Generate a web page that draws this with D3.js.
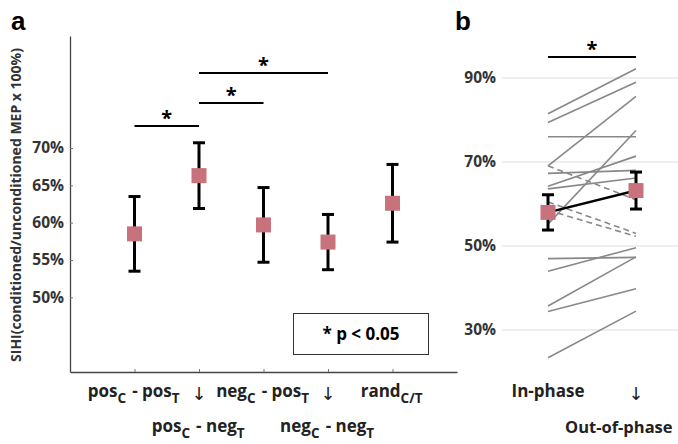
<!DOCTYPE html>
<html>
<head>
<script src="https://cdnjs.cloudflare.com/ajax/libs/d3/7.8.5/d3.min.js"></script>
<style>
  body { margin: 0; background: #fff; }
  text { font-family: "Open Sans", sans-serif; font-weight: bold; fill: #222; }
</style>
</head>
<body>
<script>
// panel a: SIHI per condition (mean, +/- error)
let conditions = ["pos_C - pos_T", "pos_C - neg_T", "neg_C - pos_T", "neg_C - neg_T", "rand_C/T"];
let condMeans = [58.5, 66.3, 59.7, 57.4, 62.6];
let condErr = [5.0, 4.4, 5.0, 3.7, 5.2];
let aTicks = [50, 55, 60, 65, 70];
// significance pairs (index from, index to, stacking level)
let sigPairs = [[0, 1, 0], [1, 2, 1], [1, 3, 2]];

// panel b: individual subjects, in-phase vs out-of-phase
let phases = ["In-phase", "Out-of-phase"];
let subjIn  = [81.5, 79.4, 76.0, 69.1, 67.3, 64.2, 63.6, 55.2, 47.0, 44.0, 35.7, 34.4, 23.4, 69.1, 60.5, 58.5];
let subjOut = [92.2, 89.0, 76.0, 85.6, 68.0, 71.4, 66.2, 77.5, 47.3, 49.6, 47.4, 39.8, 34.5, 61.0, 53.0, 52.3];
let subjDashed = [0, 0, 0, 0, 0, 0, 0, 0, 0, 0, 0, 0, 0, 1, 1, 1];
let phaseMeans = [58.0, 63.2];
let phaseErr = [4.2, 4.4];
let bTicks = [30, 50, 70, 90];

let W = 678, H = 444;
let markColor = "#c8727c";

let svg = d3.select("body").append("svg")
    .attr("width", W)
    .attr("height", H);

// ---------- panel a ----------
let xa = d3.scaleLinear().domain([0, 6]).range([70, 457]);
let ya = d3.scaleLinear().domain([40, 85]).range([372, 36]);

let gya = svg.append("g")
    .attr("transform", "translate(70,0)")
    .call(d3.axisLeft(ya).tickValues(aTicks).tickSize(-3).tickSizeOuter(0)
        .tickFormat(d => d + "%"));
gya.select(".domain").attr("stroke", "#444").attr("stroke-width", 1.3);
gya.selectAll(".tick line").attr("stroke", "#777");
gya.selectAll(".tick text").attr("x", -6).style("font-size", "15.5px").style("fill", "#333");

let gxa = svg.append("g")
    .attr("transform", "translate(0,372)")
    .call(d3.axisBottom(xa).tickValues([1, 2, 3, 4, 5]).tickSize(-3).tickSizeOuter(0)
        .tickFormat(""));
gxa.select(".domain").attr("stroke", "#444").attr("stroke-width", 1.3);
gxa.selectAll(".tick line").attr("stroke", "#777");

// labels with subscripts
function addLabel(g, str, x, y, anchor) {
    let t = g.append("text")
        .attr("x", x).attr("y", y)
        .attr("text-anchor", anchor || "middle")
        .style("font-size", "17px");
    let parts = str.split(/_(C\/T|C|T)/);
    parts.forEach(function(p, i) {
        if (p === "") return;
        if (i % 2 === 1) {
            t.append("tspan").attr("dy", 6).style("font-size", "13.5px").text(p);
            t.append("tspan").attr("dy", -6).text("\u200a");
        } else {
            t.append("tspan").text(p);
        }
    });
    return t;
}

function addArrow(x, y) {
    svg.append("text").attr("x", x).attr("y", y)
        .attr("text-anchor", "middle")
        .style("font-family", "DejaVu Sans, sans-serif")
        .style("font-size", "18px")
        .style("font-weight", "normal").text("\u2193");
}

let xl = svg.append("g");
conditions.forEach(function(c, i) {
    if (i % 2 === 0) {
        addLabel(xl, c, xa(i + 1), 397);
    } else {
        addArrow(xa(i + 1), 400);
        addLabel(xl, c, xa(i + 1), 432);
    }
});

svg.append("text")
    .attr("transform", "translate(21,205) rotate(-90)")
    .attr("text-anchor", "middle")
    .style("font-size", "14px")
    .style("fill", "#333")
    .text("SIHI(conditioned/unconditioned MEP x 100%)");

// error bars
let eb = svg.append("g").attr("stroke", "#000").attr("stroke-width", 3);
condMeans.forEach(function(m, i) {
    let cx = xa(i + 1);
    eb.append("line").attr("x1", cx).attr("x2", cx)
        .attr("y1", ya(m - condErr[i])).attr("y2", ya(m + condErr[i]));
    eb.append("line").attr("x1", cx - 6).attr("x2", cx + 6)
        .attr("y1", ya(m - condErr[i])).attr("y2", ya(m - condErr[i]));
    eb.append("line").attr("x1", cx - 6).attr("x2", cx + 6)
        .attr("y1", ya(m + condErr[i])).attr("y2", ya(m + condErr[i]));
});
svg.append("g").selectAll("rect")
    .data(condMeans)
    .enter()
    .append("rect")
        .attr("x", (d, i) => xa(i + 1) - 7.5)
        .attr("y", d => ya(d) - 7.5)
        .attr("width", 15).attr("height", 15)
        .attr("fill", markColor);

// significance bars
let sigY = [126, 103, 73];
sigPairs.forEach(function(p) {
    let y = sigY[p[2]];
    svg.append("line")
        .attr("x1", xa(p[0] + 1)).attr("x2", xa(p[1] + 1))
        .attr("y1", y).attr("y2", y)
        .attr("stroke", "#000").attr("stroke-width", 2);
    svg.append("text")
        .attr("x", (xa(p[0] + 1) + xa(p[1] + 1)) / 2)
        .attr("y", y - 1)
        .attr("text-anchor", "middle")
        .style("font-size", "20px").style("fill", "#000")
        .text("*");
});

// legend box
svg.append("rect")
    .attr("x", 293.5).attr("y", 313.5).attr("width", 135).attr("height", 41)
    .attr("fill", "#fff").attr("stroke", "#333").attr("stroke-width", 1);
svg.append("text")
    .attr("x", 361).attr("y", 340)
    .attr("text-anchor", "middle")
    .style("font-size", "17px").style("fill", "#000")
    .text("* p < 0.05");

svg.append("text").attr("x", 11).attr("y", 30)
    .style("font-family", "Liberation Sans, Arial, sans-serif")
    .style("font-size", "26px").style("fill", "#000").text("a");

// ---------- panel b ----------
let xb = d3.scalePoint().domain(phases).range([548, 636]);
let yb = d3.scaleLinear().domain([20, 100]).range([372, 36]);

svg.append("g").selectAll("line")
    .data(bTicks)
    .enter()
    .append("line")
        .attr("x1", 502).attr("x2", W)
        .attr("y1", d => yb(d)).attr("y2", d => yb(d))
        .attr("stroke", "#ddd").attr("stroke-width", 1);
svg.append("g").selectAll("text")
    .data(bTicks)
    .enter()
    .append("text")
        .attr("x", 496)
        .attr("y", d => yb(d))
        .attr("dy", "0.35em")
        .attr("text-anchor", "end")
        .style("font-size", "15.5px").style("fill", "#333")
        .text(d => d + "%");

svg.append("g").selectAll("line")
    .data(subjIn)
    .enter()
    .append("line")
        .attr("x1", xb(phases[0])).attr("x2", xb(phases[1]))
        .attr("y1", d => yb(d))
        .attr("y2", (d, i) => yb(subjOut[i]))
        .attr("stroke", "#888").attr("stroke-width", 1.6)
        .attr("stroke-dasharray", (d, i) => subjDashed[i] ? "6,4" : null);

let ebb = svg.append("g").attr("stroke", "#000").attr("stroke-width", 3);
phaseMeans.forEach(function(m, i) {
    let cx = xb(phases[i]);
    ebb.append("line").attr("x1", cx).attr("x2", cx)
        .attr("y1", yb(m - phaseErr[i])).attr("y2", yb(m + phaseErr[i]));
    ebb.append("line").attr("x1", cx - 6).attr("x2", cx + 6)
        .attr("y1", yb(m - phaseErr[i])).attr("y2", yb(m - phaseErr[i]));
    ebb.append("line").attr("x1", cx - 6).attr("x2", cx + 6)
        .attr("y1", yb(m + phaseErr[i])).attr("y2", yb(m + phaseErr[i]));
});
svg.append("path")
    .attr("d", d3.line()(phaseMeans.map((m, i) => [xb(phases[i]), yb(m)])))
    .attr("stroke", "#000").attr("stroke-width", 2.5).attr("fill", "none");
svg.append("g").selectAll("rect")
    .data(phaseMeans)
    .enter()
    .append("rect")
        .attr("x", (d, i) => xb(phases[i]) - 7.5)
        .attr("y", d => yb(d) - 7.5)
        .attr("width", 15).attr("height", 15)
        .attr("fill", markColor);

svg.append("line")
    .attr("x1", xb(phases[0])).attr("x2", xb(phases[1]))
    .attr("y1", 57).attr("y2", 57)
    .attr("stroke", "#000").attr("stroke-width", 2);
svg.append("text")
    .attr("x", (xb(phases[0]) + xb(phases[1])) / 2).attr("y", 56)
    .attr("text-anchor", "middle")
    .style("font-size", "20px").style("fill", "#000").text("*");

svg.append("text").attr("x", xb(phases[0])).attr("y", 397)
    .attr("text-anchor", "middle").style("font-size", "17px").text(phases[0]);
addArrow(xb(phases[1]), 400);
svg.append("text").attr("x", 565).attr("y", 433)
    .style("font-size", "16.5px").text(phases[1]);

svg.append("text").attr("x", 455).attr("y", 30)
    .style("font-family", "Liberation Sans, Arial, sans-serif")
    .style("font-size", "26px").style("fill", "#000").text("b");
</script>
</body>
</html>
